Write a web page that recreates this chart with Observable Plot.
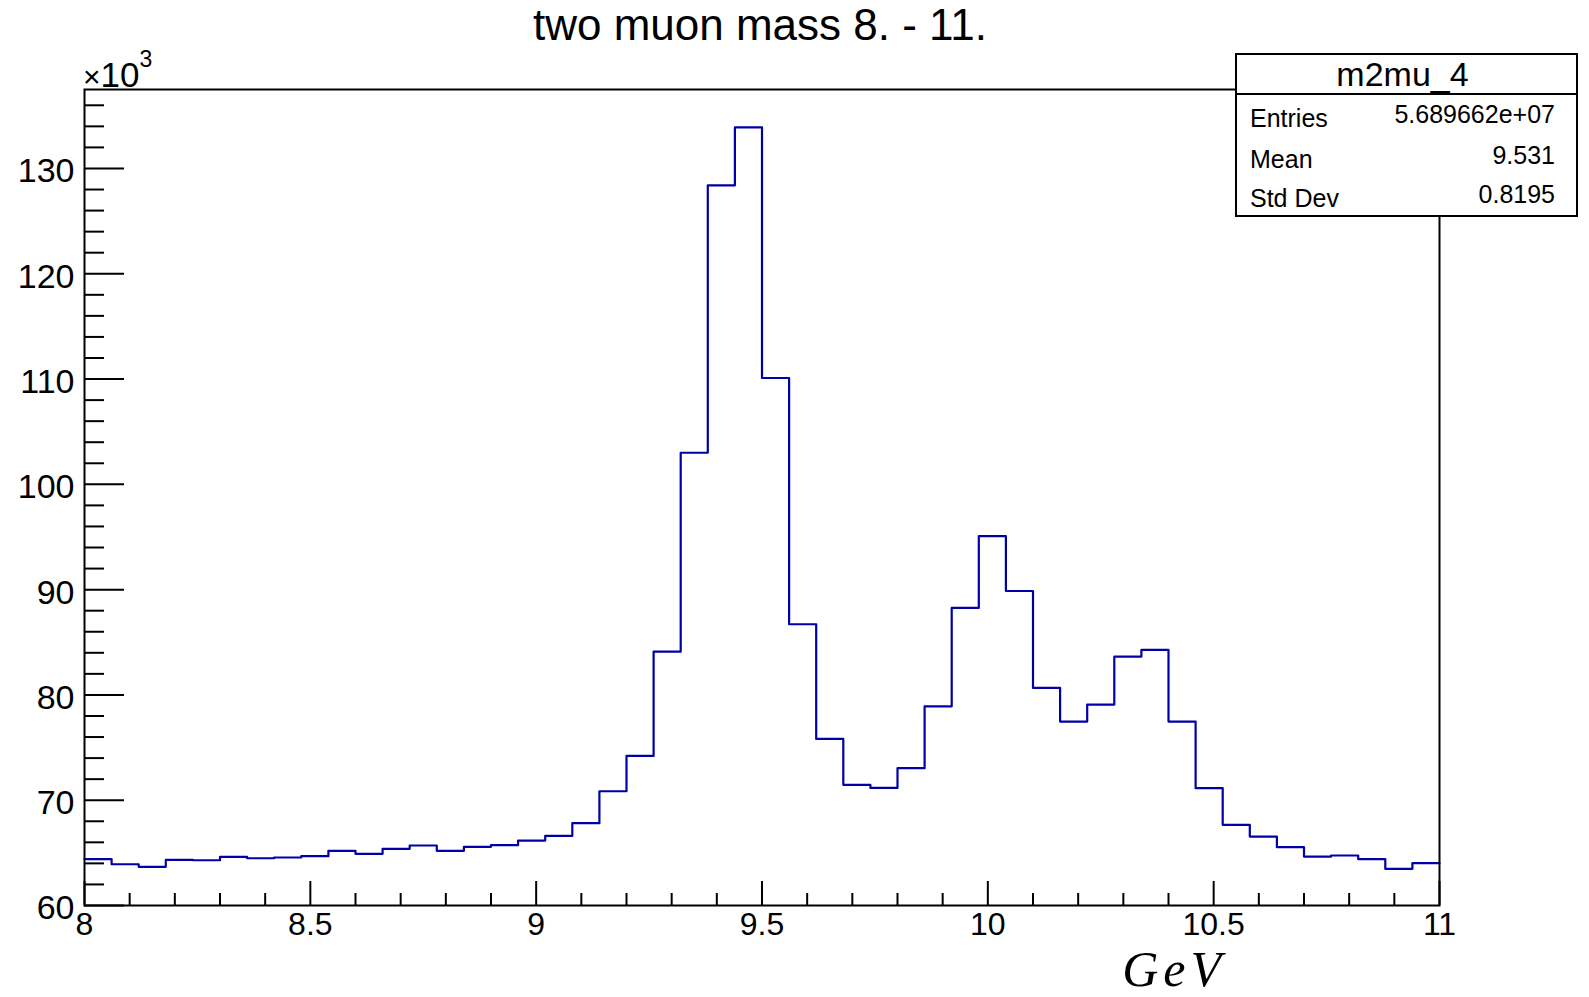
<!DOCTYPE html>
<html>
<head>
<meta charset="utf-8">
<script src="https://cdn.jsdelivr.net/npm/d3@7"></script>
<script src="https://cdn.jsdelivr.net/npm/@observablehq/plot@0.6"></script>
<style>
  html, body { margin: 0; padding: 0; background: white; }
  #wrap { position: relative; width: 1589px; height: 997px; }
  #wrap svg { position: absolute; left: 0; top: 0; }
</style>
</head>
<body>
<div id="wrap"></div>
<script>
// ---- data (counts in units of 10^3) ----
const binLow = [8.00, 8.06, 8.12, 8.18, 8.24, 8.30, 8.36, 8.42, 8.48, 8.54,
                8.60, 8.66, 8.72, 8.78, 8.84, 8.90, 8.96, 9.02, 9.08, 9.14,
                9.20, 9.26, 9.32, 9.38, 9.44, 9.50, 9.56, 9.62, 9.68, 9.74,
                9.80, 9.86, 9.92, 9.98, 10.04, 10.10, 10.16, 10.22, 10.28, 10.34,
                10.40, 10.46, 10.52, 10.58, 10.64, 10.70, 10.76, 10.82, 10.88, 10.94];
const xMax = 11;
const counts = [64.40, 63.92, 63.67, 64.34, 64.30, 64.62, 64.49, 64.56, 64.68, 65.19,
                64.91, 65.38, 65.70, 65.19, 65.57, 65.73, 66.17, 66.61, 67.82, 70.85,
                74.21, 84.11, 103.0, 128.4, 133.9, 110.1, 86.71, 75.82, 71.46, 71.17,
                73.04, 78.92, 88.26, 95.09, 89.87, 80.66, 77.47, 79.08, 83.64, 84.27,
                77.47, 71.14, 67.66, 66.55, 65.54, 64.65, 64.75, 64.40, 63.48, 64.02];
const xMajor = [8, 8.5, 9, 9.5, 10, 10.5, 11];
const xMinor = [8.1, 8.2, 8.3, 8.4, 8.6, 8.7, 8.8, 8.9, 9.1, 9.2, 9.3, 9.4, 9.6, 9.7, 9.8, 9.9,
                10.1, 10.2, 10.3, 10.4, 10.6, 10.7, 10.8, 10.9];
const yMajor = [60, 70, 80, 90, 100, 110, 120, 130];
const yMinor = [62, 64, 66, 68, 72, 74, 76, 78, 82, 84, 86, 88, 92, 94, 96, 98,
                102, 104, 106, 108, 112, 114, 116, 118, 122, 124, 126, 128, 132, 134, 136];
const title = "two muon mass 8. - 11.";
const histName = "m2mu_4";
const statLabels = ["Entries", "Mean", "Std Dev"];
const statValues = ["5.689662e+07", "9.531", "0.8195"];
const xTitle = "GeV";

// ---- layout ----
const W = 1589, H = 997;
const mL = 84, mR = 150, mT = 89, mB = 92;
const fw = W - mL - mR, fh = H - mT - mB;
const lineColor = "#0000a8";

const points = binLow.map((x, i) => ({x, y: counts[i]}));
points.push({x: xMax, y: counts[counts.length - 1]});

const chart = Plot.plot({
  width: W, height: H,
  marginLeft: mL, marginRight: mR, marginTop: mT, marginBottom: mB,
  x: {domain: [8, 11]},
  y: {domain: [60, 137.5]},
  style: {fontFamily: "'Liberation Sans', Arial, sans-serif", background: "white", color: "black", overflow: "visible"},
  marks: [
    Plot.tickY(yMinor, {y: d => d, insetRight: fw - 20, stroke: "black", strokeWidth: 2}),
    Plot.tickY(yMajor, {y: d => d, insetRight: fw - 40, stroke: "black", strokeWidth: 2}),
    Plot.tickX(xMinor, {x: d => d, insetTop: fh - 12, stroke: "black", strokeWidth: 2}),
    Plot.tickX(xMajor, {x: d => d, insetTop: fh - 24, stroke: "black", strokeWidth: 2}),
    Plot.axisY({ticks: yMajor, tickSize: 0, tickPadding: 10, dy: 3, fontSize: 34, label: null, tickFormat: d => String(d)}),
    Plot.axisX({ticks: xMajor, tickSize: 0, tickPadding: 7, fontSize: 32, label: null, tickFormat: d => String(d)}),
    Plot.line(points, {x: "x", y: "y", curve: "step-after", stroke: lineColor, strokeWidth: 2.2}),
    Plot.frame({stroke: "black", strokeWidth: 2})
  ]
});
const wrap = document.getElementById("wrap");
wrap.appendChild(chart);

// ---- overlay texts (title, multiplier, axis title, stats box) ----
const ov = d3.create("svg").attr("width", W).attr("height", H)
  .style("pointer-events", "none")
  .style("font-family", "'Liberation Sans', Arial, sans-serif");

ov.append("text").attr("x", 760).attr("y", 40).attr("text-anchor", "middle")
  .attr("font-size", 44).text(title);

const mult = ov.append("text").attr("x", 83).attr("y", 87).attr("font-size", 35);
mult.append("tspan").attr("font-size", 30).text("\u00d7");
mult.append("tspan").text("10");
mult.append("tspan").attr("font-size", 23).attr("dy", -20).text("3");

ov.append("text").attr("x", 1226).attr("y", 986).attr("text-anchor", "end")
  .attr("font-family", "'Liberation Serif', 'DejaVu Serif', serif")
  .attr("font-style", "italic").attr("font-size", 50).attr("letter-spacing", 5)
  .text(xTitle);

const bx = 1236, by = 54, bw = 341, bh = 162, hy = 94;
ov.append("rect").attr("x", bx).attr("y", by).attr("width", bw).attr("height", bh)
  .attr("fill", "white").attr("stroke", "black").attr("stroke-width", 2);
ov.append("line").attr("x1", bx).attr("x2", bx + bw).attr("y1", hy).attr("y2", hy)
  .attr("stroke", "black").attr("stroke-width", 2);
ov.append("text").attr("x", bx + bw / 2 - 4).attr("y", 86).attr("text-anchor", "middle")
  .attr("font-size", 34).text(histName);
const labelBase = [127, 168, 207];
const valueBase = [123, 164, 203];
statLabels.forEach((s, i) => {
  ov.append("text").attr("x", 1250).attr("y", labelBase[i]).attr("font-size", 25).text(s);
  ov.append("text").attr("x", 1555).attr("y", valueBase[i]).attr("text-anchor", "end")
    .attr("font-size", 25).text(statValues[i]);
});
wrap.appendChild(ov.node());
</script>
</body>
</html>
